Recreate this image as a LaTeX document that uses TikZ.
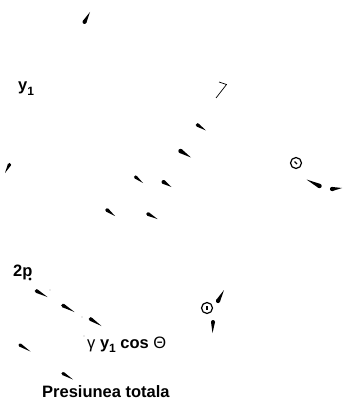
\documentclass[tikz,border=0pt]{standalone}
\usepackage{fontspec}
\setmainfont{Liberation Sans}
\usetikzlibrary{calc}
\tikzset{
  lbl/.style={font=\bfseries\fontsize{16.5}{19}\selectfont, inner sep=0pt},
  thetamark/.style={line width=1.2pt},
  faint/.style={fill=black!35},
}
\newcommand\wdg[3]{%
  \fill ($#1!#3!90:#2$) -- #2 -- ($#1!#3!-90:#2$) -- cycle;
  \fill #1 circle (#3);}
\newcommand\sub[1]{\raisebox{-0.5ex}{\fontsize{12}{12}\selectfont #1}}
\begin{document}
\begin{tikzpicture}[x=1pt,y=-1pt]
\useasboundingbox (0,0) rectangle (342,403);
% wedges (base, tip, half width)
\wdg{(84.5,22)}{(90,12)}{2pt}
\wdg{(9.5,164.5)}{(5,173)}{1.7pt}
\wdg{(135.5,177)}{(143,183)}{1.7pt}
\wdg{(163.5,182)}{(171.5,187)}{2pt}
\wdg{(197.5,125)}{(206,130.5)}{1.8pt}
\wdg{(180.5,151)}{(191,157.5)}{2.2pt}
\wdg{(319.5,186)}{(306.5,179.5)}{2.2pt}
\wdg{(332,189)}{(342,188)}{2.1pt}
\wdg{(107,210)}{(115,216)}{1.9pt}
\wdg{(148,214)}{(157.5,219)}{1.9pt}
\wdg{(36.5,291)}{(47.5,297)}{1.9pt}
\wdg{(63,305.5)}{(74.5,312)}{1.9pt}
\wdg{(90.5,319)}{(101.5,326)}{1.9pt}
\wdg{(20,345)}{(30.5,351.5)}{1.7pt}
\wdg{(63,373.5)}{(73,379.5)}{1.7pt}
\wdg{(218,301)}{(224,290)}{2.1pt}
\wdg{(213,322)}{(212.5,333)}{2pt}
% thin mark
\draw[line width=0.7pt] (219,82) -- (226.5,84.5) -- (216,98);
% theta marks
\draw[thetamark] (296,163) circle (5.5pt);
\draw[line width=1.3pt] (294.5,161.5) -- (297,164);
\draw[thetamark] (207,308) circle (5.5pt);
\draw[line width=1.5pt] (207,306) -- (207,310);
% faint specks
\fill[faint] (50,290) circle (0.6pt);
\fill[faint] (82,317) circle (0.6pt);
\fill[faint] (84,336) circle (0.7pt);
% labels
\node[lbl, anchor=base west] (ylab) at (18,91) {y\sub{1}};
\node[lbl, anchor=base west] (twop) at (13,276) {2p};
\fill (30,279) circle (1.6pt);
\node[lbl, anchor=base west] (gexpr) at (87,348) {{\mdseries γ} y\sub{1} cos {\mdseries Θ}};
\node[lbl, anchor=base west] (pres) at (42,397) {Presiunea totala};
\end{tikzpicture}
\end{document}
